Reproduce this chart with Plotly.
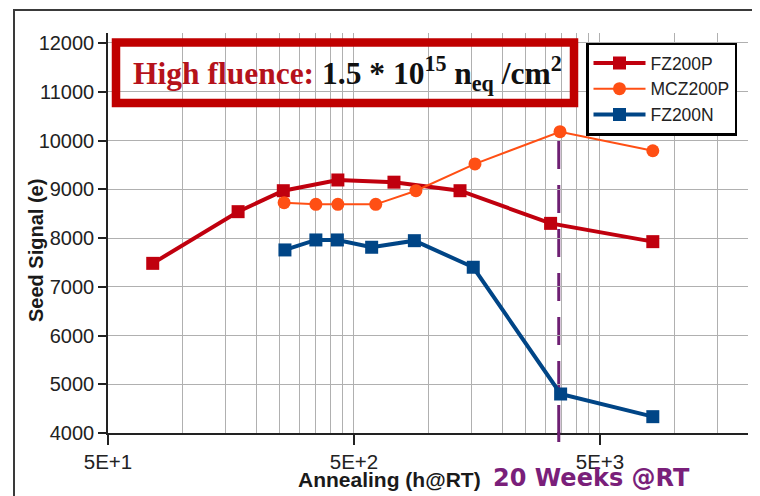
import math
import plotly.graph_objects as go

# ---------------- data ----------------
fz200p_x = [76, 169, 258, 430, 727, 1349, 3150, 8200]
fz200p_y = [7480, 8540, 8970, 9190, 9145, 8970, 8300, 7925]

mcz200p_x = [260, 350, 430, 613, 893, 1552, 3440, 8200]
mcz200p_y = [8725, 8690, 8690, 8690, 8970, 9520, 10180, 9790]

fz200n_x = [262, 350, 428, 590, 880, 1527, 3460, 8200]
fz200n_y = [7755, 7960, 7960, 7810, 7945, 7400, 4800, 4335]

x_tickvals = [50, 500, 5000]
x_ticktext = ["5E+1", "5E+2", "5E+3"]
x_minor_vals = [100, 150, 200, 250, 300, 350, 400, 450,
                1000, 1500, 2000, 2500, 3000, 3500, 4000, 4500,
                10000, 15000]
y_tickvals = [4000, 5000, 6000, 7000, 8000, 9000, 10000, 11000, 12000]
y_ticktext = ["4000", "5000", "6000", "7000", "8000", "9000", "10000", "11000", "12000"]
x_range = [50, 19990]
y_range = [4000, 12205]
week20_hours = 3400
week20_top = 10200

# ---------------- layout helpers (screen pixel -> paper) ----------------
OFF = 8                      # page body margin
W, H = 752, 488
ML, MR, MT, MB = 100, 12, 25, 63
PW, PH = W - ML - MR, H - MT - MB


def px(x):
    return (x - OFF - ML) / PW


def py(y):
    return (H - MB - (y - OFF)) / PH


RED = "#c0000e"
ORANGE = "#ff4f14"
BLUE = "#004586"
PURPLE = "#7a1f7a"
DASHCOL = "#6e1f73"

fig = go.Figure()
fig.add_trace(go.Scatter(x=fz200p_x, y=fz200p_y, name="FZ200P", mode="lines+markers",
                         line=dict(color=RED, width=4),
                         marker=dict(symbol="square", size=13, color=RED)))
fig.add_trace(go.Scatter(x=mcz200p_x, y=mcz200p_y, name="MCZ200P", mode="lines+markers",
                         line=dict(color=ORANGE, width=2),
                         marker=dict(symbol="circle", size=13, color=ORANGE)))
fig.add_trace(go.Scatter(x=fz200n_x, y=fz200n_y, name="FZ200N", mode="lines+markers",
                         line=dict(color=BLUE, width=4),
                         marker=dict(symbol="square", size=13, color=BLUE)))

GRID = "#b0b0b0"
fig.update_layout(
    width=W, height=H,
    margin=dict(l=ML, r=MR, t=MT, b=MB, pad=0),
    paper_bgcolor="white", plot_bgcolor="white",
    font=dict(family="Liberation Sans, Arial, sans-serif", color="#222222"),
    showlegend=True,
    legend=dict(x=px(586), y=py(42.5), xanchor="left", yanchor="top",
                bgcolor="white", bordercolor="black", borderwidth=2.5,
                font=dict(size=17.5, color="#222222"),
                itemwidth=52, tracegroupgap=0),
    xaxis=dict(type="log", range=[math.log10(x_range[0]), math.log10(x_range[1])],
               tickmode="array", tickvals=x_tickvals, ticktext=x_ticktext,
               ticks="outside", ticklen=10, tickwidth=1.5, tickcolor="#222222",
               tickfont=dict(size=20.5, color="#222222"),
               showline=True, linecolor="#222222", linewidth=1.5,
               showgrid=True, gridcolor=GRID, gridwidth=1,
               minor=dict(tickmode="array", tickvals=x_minor_vals, showgrid=True,
                          gridcolor=GRID, gridwidth=1, ticks=""),
               zeroline=False),
    yaxis=dict(range=y_range, tickmode="array", tickvals=y_tickvals, ticktext=y_ticktext,
               ticks="outside", ticklen=8, tickwidth=1.5, tickcolor="#222222",
               tickfont=dict(size=20, color="#222222"),
               showline=True, linecolor="#222222", linewidth=1.5,
               showgrid=True, gridcolor=GRID, gridwidth=1, zeroline=False),
)

# outer frame
fig.add_shape(type="rect", xref="paper", yref="paper",
              x0=px(14), x1=px(772), y0=py(10), y1=py(510),
              line=dict(color="#3a3a3a", width=2), layer="above")
# title box
fig.add_shape(type="rect", xref="paper", yref="paper",
              x0=px(116), x1=px(574), y0=py(42.5), y1=py(103),
              line=dict(color="#c00000", width=8.5), layer="above")
# 20 weeks dashed line (shape positions on log axes are data values)
fig.add_shape(type="line", xref="x", yref="paper",
              x0=week20_hours, x1=week20_hours,
              y0=0, y1=(week20_top - y_range[0]) / (y_range[1] - y_range[0]),
              line=dict(color=DASHCOL, width=3, dash="28px,16px"), layer="between")
# part of the dashed line that pokes below the x axis
fig.add_shape(type="line", xref="x", yref="paper",
              x0=week20_hours, x1=week20_hours,
              y0=py(442), y1=py(432),
              line=dict(color=DASHCOL, width=3), layer="above")

fig.add_annotation(xref="paper", yref="paper", x=px(131), y=py(73),
                   xanchor="left", yanchor="middle", showarrow=False,
                   text="<span style='color:#b5121b'><b>High fluence:</b></span><b> 1.5 * 10<sup>15</sup> n<sub>eq</sub> /cm<sup>2</sup></b>",
                   font=dict(family="Liberation Serif, Times New Roman, serif", size=31.5, color="#111111"))

fig.add_annotation(xref="paper", yref="paper", x=px(296), y=py(479),
                   xanchor="left", yanchor="middle", showarrow=False,
                   text="<b>Annealing (h@RT)</b>",
                   font=dict(size=21, color="#1a1a1a"))
fig.add_annotation(xref="paper", yref="paper", x=px(491), y=py(478),
                   xanchor="left", yanchor="middle", showarrow=False,
                   text="<b>20 Weeks @RT</b>",
                   font=dict(family="DejaVu Sans, Verdana, sans-serif", size=24, color=PURPLE))
fig.add_annotation(xref="paper", yref="paper", x=px(36), y=py(251),
                   xanchor="center", yanchor="middle", showarrow=False, textangle=-90,
                   text="<b>Seed Signal (e)</b>",
                   font=dict(size=20, color="#1a1a1a"))

fig.write_html("out.html")
